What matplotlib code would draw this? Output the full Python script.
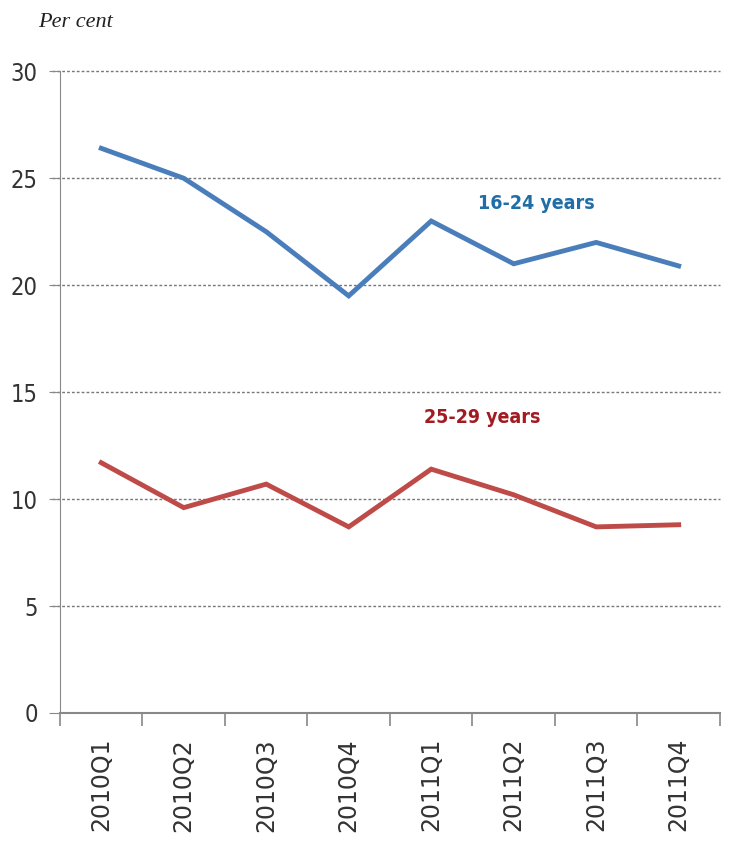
import matplotlib.pyplot as plt

# quarterly rates, per cent
quarters = ["2010Q1", "2010Q2", "2010Q3", "2010Q4", "2011Q1", "2011Q2", "2011Q3", "2011Q4"]
age_16_24 = [26.4, 25.0, 22.5, 19.5, 23.0, 21.0, 22.0, 20.9]
age_25_29 = [11.7, 9.6, 10.7, 8.7, 11.4, 10.2, 8.7, 8.8]

fig = plt.figure(figsize=(7.3, 8.59), dpi=100)
ax = fig.add_axes([0.0822, 0.170, 0.904, 0.747])

x = range(len(quarters))
ax.plot(x, age_16_24, color="#4a7ebb", lw=3.5, solid_joinstyle="miter")
ax.plot(x, age_25_29, color="#be4b48", lw=3.5, solid_joinstyle="miter")

ax.set_xlim(-0.5, len(quarters) - 0.5)
ax.set_ylim(0, 30)
ax.set_yticks(range(0, 31, 5))
ax.set_yticklabels([str(v) for v in range(0, 31, 5)], fontstretch="condensed",
                   fontweight="light", fontsize=17, color="#333333")

# category labels sit between the tick marks
ax.set_xticks([i - 0.5 for i in range(len(quarters) + 1)])
ax.set_xticklabels([])
ax.set_xticks(list(x), minor=True)
ax.set_xticklabels(quarters, minor=True, rotation=90, fontsize=17, color="#333333")
ax.tick_params(axis="x", which="major", length=9, color="#888888", width=1.2)
ax.tick_params(axis="x", which="minor", length=0, pad=18)
ax.tick_params(axis="y", length=8, color="#888888", pad=8)

for v in range(5, 31, 5):
    ax.axhline(v, color="#777777", lw=1, ls=(0, (2, 1.5)), xmin=-0.012, clip_on=False, zorder=0)

for s in ["top", "right"]:
    ax.spines[s].set_visible(False)
ax.spines["left"].set_color("#888888")
ax.spines["bottom"].set_color("#888888")
ax.spines["bottom"].set_linewidth(1.5)

ax.text(5.28, 23.8, "16-24 years", color="#1f6ea8", fontsize=14, fontweight="bold",
        fontstretch="condensed", ha="center", va="center")
ax.text(4.62, 13.8, "25-29 years", color="#a01b22", fontsize=14, fontweight="bold",
        fontstretch="condensed", ha="center", va="center")

fig.text(0.052, 0.974, "Per cent", fontsize=16, style="italic", family="Liberation Serif",
         ha="left", va="center", color="#222222")

fig.savefig("out.png", dpi=100)
